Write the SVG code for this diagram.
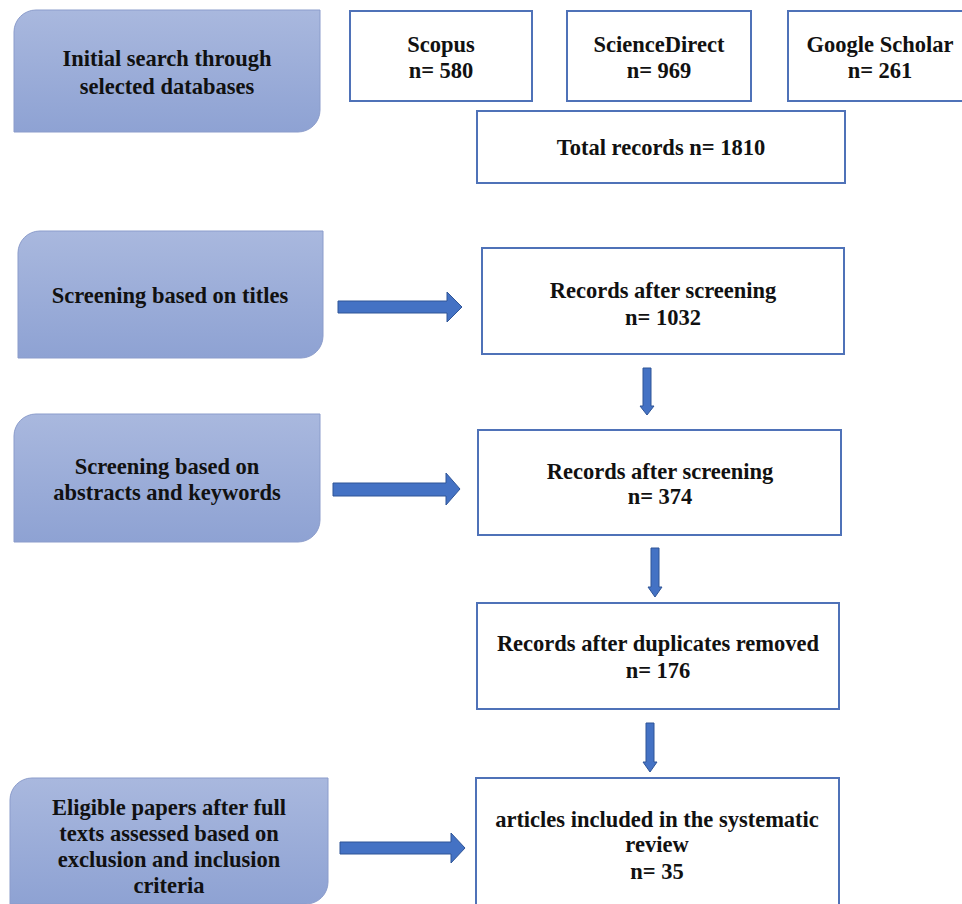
<svg xmlns="http://www.w3.org/2000/svg" width="962" height="904" viewBox="0 0 962 904">
<style>
.lb{stroke:#8b9ccb;stroke-width:1;fill:url(#g)}
.rb{fill:#fff;stroke:#4f72b8;stroke-width:2}
.t{font-family:"Liberation Serif","Times New Roman",serif;font-weight:bold;font-size:22.5px;fill:#111;text-anchor:middle}
.ar{fill:#4472c4;stroke:#2f5597;stroke-width:1}
</style>
<defs>
<linearGradient id="g" x1="0" y1="0" x2="0" y2="1">
<stop offset="0" stop-color="#a9b8de"/>
<stop offset="1" stop-color="#8ea2d3"/>
</linearGradient>
</defs>
<rect width="962" height="904" fill="#fff"/>

<g id="initial">
<path class="lb" d="M14,32 A22,22 0 0 1 36,10 H320 V110 A22,22 0 0 1 298,132 H14 Z"/>
<text class="t" x="167" y="66">Initial search through</text>
<text class="t" x="167" y="94">selected databases</text>
</g>
<g id="scopus">
<rect class="rb" x="350" y="11" width="182" height="90"/>
<text class="t" x="441" y="52">Scopus</text>
<text class="t" x="441" y="78">n= 580</text>
</g>
<g id="sciencedirect">
<rect class="rb" x="567" y="11" width="184" height="90"/>
<text class="t" x="659" y="52">ScienceDirect</text>
<text class="t" x="659" y="78">n= 969</text>
</g>
<g id="scholar">
<rect class="rb" x="788" y="11" width="180" height="90"/>
<text class="t" x="880" y="52">Google Scholar</text>
<text class="t" x="880" y="78">n= 261</text>
</g>
<g id="total">
<rect class="rb" x="477" y="111" width="368" height="72"/>
<text class="t" x="661" y="155">Total records n= 1810</text>
</g>

<g id="titles">
<path class="lb" d="M18,253 A22,22 0 0 1 40,231 H323 V336 A22,22 0 0 1 301,358 H18 Z"/>
<text class="t" x="170" y="303">Screening based on titles</text>
</g>
<g id="rec1">
<rect class="rb" x="482" y="248" width="362" height="106"/>
<text class="t" x="663" y="298">Records after screening</text>
<text class="t" x="663" y="325">n= 1032</text>
</g>

<g id="abstracts">
<path class="lb" d="M14,436 A22,22 0 0 1 36,414 H320 V520 A22,22 0 0 1 298,542 H14 Z"/>
<text class="t" x="167" y="474">Screening based on</text>
<text class="t" x="167" y="500">abstracts and keywords</text>
</g>
<g id="rec2">
<rect class="rb" x="478" y="430" width="363" height="105"/>
<text class="t" x="660" y="479">Records after screening</text>
<text class="t" x="660" y="504">n= 374</text>
</g>

<g id="dup">
<rect class="rb" x="477" y="603" width="362" height="106"/>
<text class="t" x="658" y="651">Records after duplicates removed</text>
<text class="t" x="658" y="678">n= 176</text>
</g>

<g id="eligible">
<path class="lb" d="M10,800 A22,22 0 0 1 32,778 H328 V882 A22,22 0 0 1 306,904 H10 Z"/>
<text class="t" x="169" y="815">Eligible papers after full</text>
<text class="t" x="169" y="841">texts assessed based on</text>
<text class="t" x="169" y="867">exclusion and inclusion</text>
<text class="t" x="169" y="893">criteria</text>
</g>
<g id="articles">
<rect class="rb" x="476" y="778" width="363" height="130"/>
<text class="t" x="657" y="827">articles included in the systematic</text>
<text class="t" x="657" y="852">review</text>
<text class="t" x="657" y="879">n= 35</text>
</g>

<g id="connectors">
<path class="ar" d="M338,301 H447 V292 L462,307 L447,322 V313 H338 Z"/>
<path class="ar" d="M333,483 H446 V473 L460,489 L446,505 V496 H333 Z"/>
<path class="ar" d="M340,842 H451 V833 L465,848 L451,863 V854 H340 Z"/>
<path class="ar" d="M643,368 H651 V406 H654 L647,415 L640,406 H643 Z"/>
<path class="ar" d="M651,548 H659 V587 H662 L655,597 L648,587 H651 Z"/>
<path class="ar" d="M646,723 H654 V762 H657 L650,772 L643,762 H646 Z"/>
</g>
</svg>
